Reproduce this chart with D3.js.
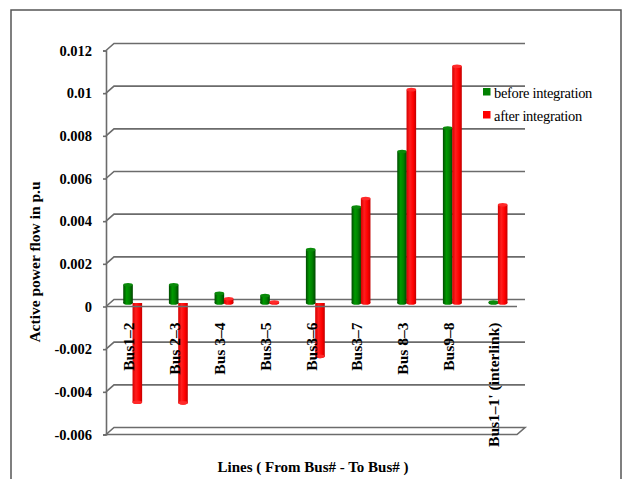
<!DOCTYPE html>
<html>
<head>
<meta charset="utf-8">
<script src="https://cdn.jsdelivr.net/npm/d3@7"></script>
<style>
  html, body { margin: 0; padding: 0; background: #fff; }
  svg { display: block; }
</style>
</head>
<body>
<svg id="chart" width="625" height="479"></svg>
<script>
// Line flows, in p.u.
const categories = ["Bus1\u20132", "Bus 2\u20133", "Bus 3\u20134", "Bus3\u20135", "Bus3\u20136",
                    "Bus3\u20137", "Bus 8\u20133", "Bus9\u20138", "Bus1\u20131' (interlink)"];
const beforeIntegration = [0.00085, 0.00085, 0.00045, 0.00035, 0.0025, 0.0045, 0.0071, 0.0082, 0.00004];
const afterIntegration  = [-0.00465, -0.00468, 0.0002, 0.00005, -0.0025, 0.0049, 0.01, 0.0111, 0.0046];
const yTicks = [-0.006, -0.004, -0.002, 0, 0.002, 0.004, 0.006, 0.008, 0.01, 0.012];
const yTickLabels = ["-0.006", "-0.004", "-0.002", "0", "0.002", "0.004", "0.006", "0.008", "0.01", "0.012"];
const seriesNames = ["before integration", "after integration"];

const SERIF = "'Liberation Serif', 'Times New Roman', Times, serif";
const svg = d3.select("#chart").attr("font-family", SERIF);

// 3D box geometry: front plane, plus a depth offset toward the back wall
const front = { left: 106, right: 517, top: 50.5, bottom: 434.5 };
const depth = { dx: 8, dy: -7 };

const x = d3.scaleBand().domain(categories).range([front.left, front.right]);
const y = d3.scaleLinear().domain([-0.006, 0.012]).range([front.bottom, front.top]);

const gridColor = "#6b6b6b";

// outer frame
svg.append("rect")
  .attr("x", 11).attr("y", 10).attr("width", 610).attr("height", 490)
  .attr("fill", "none").attr("stroke", "#555").attr("stroke-width", 1.5);

const defs = svg.append("defs");
function cylGrad(id, stops) {
  const g = defs.append("linearGradient").attr("id", id)
    .attr("x1", "0%").attr("x2", "100%").attr("y1", "0%").attr("y2", "0%");
  stops.forEach(([o, c]) => g.append("stop").attr("offset", o).attr("stop-color", c));
}
cylGrad("gGreen", [["0%", "#004a00"], ["35%", "#009a00"], ["65%", "#008200"], ["100%", "#004600"]]);
cylGrad("gRed", [["0%", "#d40000"], ["35%", "#ff1e1e"], ["70%", "#ff0000"], ["100%", "#c20000"]]);

// back wall gridlines with the short diagonal along the side wall
const grid = svg.append("g");
yTicks.forEach(t => {
  if (t === -0.006) return;
  const yy = y(t);
  grid.append("path")
    .attr("d", `M${front.left},${yy}L${front.left + depth.dx},${yy + depth.dy}H${front.right + depth.dx}`)
    .attr("fill", "none").attr("stroke", gridColor).attr("stroke-width", 1.6);
});

// floor slab at the bottom of the axis
{
  const yb = y(-0.006);
  grid.append("path")
    .attr("d", `M${front.left},${yb}L${front.left + depth.dx},${yb + depth.dy}H${front.right + depth.dx}L${front.right},${yb}Z`)
    .attr("fill", "#fff").attr("stroke", gridColor).attr("stroke-width", 1.6);
}

// vertical axis with tick marks and labels
const yAxis = d3.axisLeft(y).tickValues(yTicks)
  .tickFormat((d, i) => yTickLabels[i]).tickSize(3).tickPadding(11);
const yg = svg.append("g").attr("transform", `translate(${front.left},0)`).call(yAxis)
  .attr("font-family", SERIF);
yg.select(".domain").attr("stroke", gridColor).attr("stroke-width", 1.6);
yg.selectAll(".tick line").attr("stroke", gridColor).attr("stroke-width", 1.6);
yg.selectAll(".tick text")
  .attr("font-family", SERIF)
  .attr("font-size", 14.5).attr("font-weight", "bold").attr("fill", "#000");

// bars: cylinders at mid depth
const barW = 9.6;
const midShift = { dx: depth.dx / 2, dy: depth.dy / 2 };
const bars = svg.append("g");
function cylinder(cx0, v, fill, cap) {
  const y0 = y(0) + midShift.dy, y1 = y(v) + midShift.dy;
  const top = Math.min(y0, y1), bot = Math.max(y0, y1);
  const ry = 1.8;
  const g = bars.append("g");
  g.append("ellipse").attr("cx", cx0 + barW / 2).attr("cy", bot).attr("rx", barW / 2).attr("ry", ry)
    .attr("fill", fill);
  g.append("rect").attr("x", cx0).attr("y", top).attr("width", barW).attr("height", Math.max(bot - top, 0.5))
    .attr("fill", fill);
  g.append("ellipse").attr("cx", cx0 + barW / 2).attr("cy", v >= 0 ? top : bot).attr("rx", barW / 2).attr("ry", ry)
    .attr("fill", cap);
}
categories.forEach((c, i) => {
  const cx = x(c) + x.bandwidth() / 2 + midShift.dx;
  cylinder(cx - barW, beforeIntegration[i], "url(#gGreen)", "#0a8a0a");
  cylinder(cx - 0.3, afterIntegration[i], "url(#gRed)", "#ff2a2a");
});

// zero line along the front of the category axis
svg.append("line")
  .attr("x1", front.left).attr("x2", front.right)
  .attr("y1", y(0)).attr("y2", y(0))
  .attr("stroke", gridColor).attr("stroke-width", 1.6);

// category labels, rotated
svg.append("g").selectAll("text").data(categories).join("text")
  .attr("transform", d => `translate(${x(d) + x.bandwidth() / 2 + 5},${y(0) + 16}) rotate(-90)`)
  .attr("text-anchor", "end").attr("font-family", SERIF)
  .attr("font-size", 15.5).attr("font-weight", "bold").attr("fill", "#000")
  .text(d => d);

// axis titles
svg.append("text")
  .attr("transform", `translate(40,${262}) rotate(-90)`)
  .attr("text-anchor", "middle").attr("font-family", SERIF)
  .attr("font-size", 15.5).attr("font-weight", "bold")
  .text("Active power flow in p.u");
svg.append("text")
  .attr("x", 313).attr("y", 472)
  .attr("text-anchor", "middle").attr("font-family", SERIF)
  .attr("font-size", 15).attr("font-weight", "bold")
  .text("Lines ( From Bus# - To Bus# )");

// legend
const legendColors = ["#008000", "#ff0000"];
const lg = svg.append("g").attr("transform", "translate(483,88)");
seriesNames.forEach((name, i) => {
  lg.append("rect").attr("x", 0).attr("y", i * 23).attr("width", 7.5).attr("height", 7.5)
    .attr("fill", legendColors[i]);
  lg.append("text").attr("x", 11).attr("y", i * 23 + 9.5).attr("font-family", SERIF)
    .attr("font-size", 14.5).attr("letter-spacing", -0.3).attr("fill", "#000")
    .text(name);
});
</script>
</body>
</html>
